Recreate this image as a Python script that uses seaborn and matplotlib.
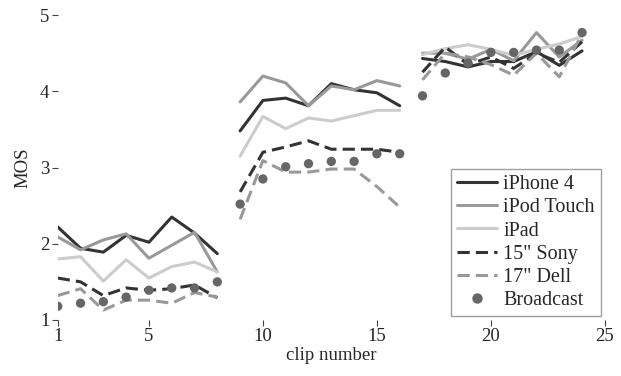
import numpy as np
import pandas as pd
import matplotlib
matplotlib.use("Agg")
import matplotlib.pyplot as plt
import seaborn as sns

sns.set_style("ticks")
plt.rcParams["font.family"] = ["Liberation Serif", "DejaVu Serif"]

# ====================================
# Data
# ====================================

clips = list(range(1, 25))
groups = [1] * 8 + [2] * 8 + [3] * 8

iphone4 = [2.22, 1.94, 1.89, 2.11, 2.02, 2.35, 2.14, 1.87,
           3.48, 3.88, 3.91, 3.81, 4.10, 4.02, 3.98, 3.81,
           4.43, 4.39, 4.32, 4.39, 4.39, 4.52, 4.34, 4.53]
ipod_touch = [2.09, 1.92, 2.05, 2.13, 1.81, 1.98, 2.15, 1.63,
              3.86, 4.20, 4.11, 3.81, 4.07, 4.02, 4.14, 4.07,
              4.50, 4.50, 4.42, 4.55, 4.40, 4.77, 4.45, 4.67]
ipad = [1.80, 1.83, 1.51, 1.79, 1.55, 1.70, 1.76, 1.63,
        3.15, 3.67, 3.51, 3.65, 3.61, 3.68, 3.75, 3.75,
        4.48, 4.56, 4.61, 4.55, 4.47, 4.55, 4.62, 4.72]
sony15 = [1.55, 1.50, 1.32, 1.42, 1.39, 1.41, 1.46, 1.29,
          2.68, 3.20, 3.27, 3.35, 3.24, 3.24, 3.24, 3.20,
          4.25, 4.58, 4.35, 4.45, 4.30, 4.50, 4.38, 4.65]
dell17 = [1.32, 1.41, 1.13, 1.26, 1.26, 1.22, 1.36, 1.30,
          2.32, 3.09, 2.94, 2.94, 2.98, 2.98, 2.75, 2.48,
          4.15, 4.50, 4.45, 4.35, 4.21, 4.50, 4.19, 4.75]
broadcast = [1.18, 1.22, 1.24, 1.30, 1.39, 1.42, 1.42, 1.50,
             2.52, 2.85, 3.01, 3.05, 3.08, 3.08, 3.18, 3.18,
             3.94, 4.24, 4.37, 4.51, 4.51, 4.54, 4.54, 4.77]

df = pd.DataFrame({
    "clip": clips,
    "group": groups,
    "iPhone 4": iphone4,
    "iPod Touch": ipod_touch,
    "iPad": ipad,
    "15\" Sony": sony15,
    "17\" Dell": dell17,
    "Broadcast": broadcast,
})

series = [
    ("iPhone 4", "#333333", ""),
    ("iPod Touch", "#999999", ""),
    ("iPad", "#cccccc", ""),
    ("15\" Sony", "#333333", (4, 2)),
    ("17\" Dell", "#999999", (4, 2)),
]

# ====================================
# Plot
# ====================================

fig, ax = plt.subplots(figsize=(6.21, 3.76), dpi=100)

for name, color, dash in series:
    sns.lineplot(
        data=df,
        x="clip",
        y=name,
        units="group",
        estimator=None,
        color=color,
        linewidth=2.2,
        ax=ax
    )
    if dash:
        for ln in ax.lines[-3:]:
            ln.set_dashes(dash)

sns.scatterplot(
    data=df,
    x="clip",
    y="Broadcast",
    color="#666666",
    s=45,
    edgecolor="none",
    ax=ax,
    zorder=5
)

ax.set_xlim(1, 25)
ax.set_ylim(1, 5)
ax.set_xticks([1, 5, 10, 15, 20, 25])
ax.set_yticks([1, 2, 3, 4, 5])
ax.tick_params(direction="out", length=4, width=0.8, color="#444444",
               labelsize=13.5, pad=2)
sns.despine(ax=ax, left=True, bottom=True)

ax.set_xlabel("clip number", fontsize=13.5, labelpad=1)
ax.set_ylabel("MOS", fontsize=13.5, labelpad=6)

handles = []
for name, color, dash in series:
    h, = ax.plot([], [], color=color, linewidth=2.2, label=name)
    if dash:
        h.set_dashes(dash)
    handles.append(h)
h, = ax.plot([], [], linestyle="none", marker="o", color="#666666",
             markersize=6.5, label="Broadcast")
handles.append(h)

leg = ax.legend(
    handles=handles,
    loc="lower right",
    bbox_to_anchor=(1.0, 0.0),
    fontsize=14.5,
    frameon=True,
    fancybox=False,
    edgecolor="#888888",
    handlelength=2.0,
    handletextpad=0.3,
    labelspacing=0.2,
    borderpad=0.3,
    borderaxespad=0.2
)
leg.get_frame().set_linewidth(1.0)

fig.subplots_adjust(left=0.093, right=0.974, top=0.960, bottom=0.149)

plt.savefig("out.png", dpi=100)
plt.close()
